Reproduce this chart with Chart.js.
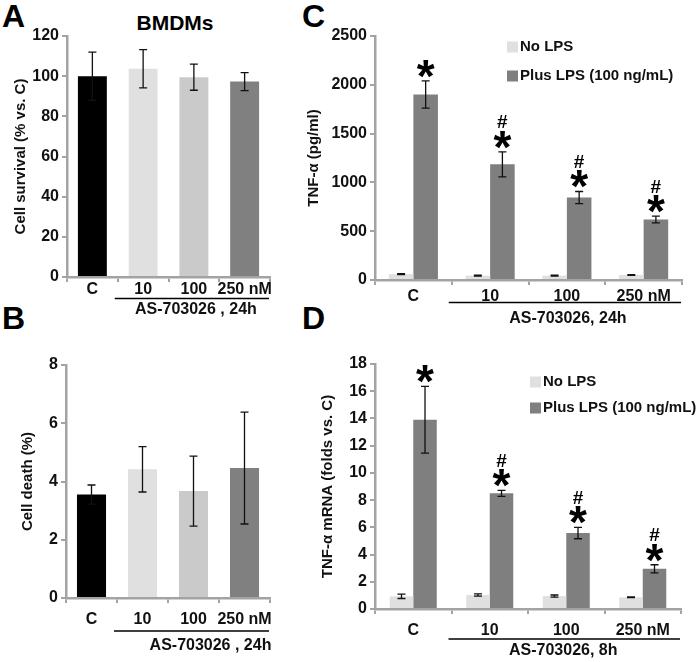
<!DOCTYPE html>
<html>
<head>
<meta charset="utf-8">
<script src="https://cdn.jsdelivr.net/npm/chart.js@4.4.1/dist/chart.umd.min.js"></script>
<style>
  body { margin: 0; background: #fff; }
  #fig { position: relative; width: 700px; height: 662px; background: #fff; font-family: 'Liberation Sans', Arial, sans-serif; color: #000; }
  #fig canvas { position: absolute; }
  .letter { position: absolute; font-weight: bold; font-size: 32px; line-height: 1; }
  .ttl { position: absolute; font-weight: bold; font-size: 21px; line-height: 1; width: 120px; text-align: center; }
</style>
</head>
<body>
<div id="fig">
  <div class="letter" style="left:2px;top:0">A</div>
  <div class="letter" style="left:2px;top:302px">B</div>
  <div class="letter" style="left:302px;top:0">C</div>
  <div class="letter" style="left:302px;top:302px">D</div>
  <div class="ttl" style="left:115px;top:12px">BMDMs</div>
  <canvas id="chartA" width="300" height="330" style="left:0;top:0"></canvas>
  <canvas id="chartB" width="300" height="332" style="left:0;top:330px"></canvas>
  <canvas id="chartC" width="400" height="330" style="left:300px;top:0"></canvas>
  <canvas id="chartD" width="400" height="332" style="left:300px;top:330px"></canvas>
</div>
<script>
// Data
const groups = ['C', '10', '100', '250 nM'];

const survival = [100, 103.7, 99.5, 97.3];
const survivalErr = [12, 9.5, 6.5, 4.5];

const death = [3.55, 4.42, 3.67, 4.46];
const deathErr = [0.33, 0.78, 1.2, 1.92];

const tnfNoLps = [60, 45, 45, 52];
const tnfNoLpsErr = [5, 4, 4, 4];
const tnfLps = [1900, 1185, 845, 620];
const tnfLpsErr = [140, 128, 62, 35];

const mrnaNoLps = [0.93, 1.03, 0.95, 0.86];
const mrnaNoLpsErr = [0.16, 0.08, 0.08, 0.03];
const mrnaLps = [13.9, 8.5, 5.58, 2.95];
const mrnaLpsErr = [2.45, 0.22, 0.42, 0.3];

const lpsMarks = ['*', '*#', '*#', '*#'];

const survivalAxis = { max: 120, step: 20 };
const deathAxis = { max: 8, step: 2 };
const tnfAxis = { max: 2500, step: 500 };
const mrnaAxis = { max: 18, step: 2 };

const FONT = "'Liberation Sans', Arial, sans-serif";
const axisGray = '#a3a3a3';
const barColors = ['#000000', '#e0e0e0', '#cacaca', '#808080'];
const noLpsColor = '#e0e0e0';
const lpsColor = '#7f7f7f';

Chart.defaults.font.family = FONT;

// error bars, significance marks, legend and the treatment bracket
const decor = {
    id: 'decor',
    afterDatasetsDraw(chart, args, opts) {
        const ctx = chart.ctx;
        const y = chart.scales.y;
        const x = chart.scales.x;
        chart.data.datasets.forEach((ds, i) => {
            const meta = chart.getDatasetMeta(i);
            meta.data.forEach((bar, j) => {
                const v = ds.data[j], e = ds.errors[j];
                const top = y.getPixelForValue(v + e);
                const bot = y.getPixelForValue(v - e);
                ctx.save();
                ctx.strokeStyle = '#111';
                ctx.lineWidth = 1.3;
                ctx.beginPath();
                ctx.moveTo(bar.x, top); ctx.lineTo(bar.x, bot);
                ctx.moveTo(bar.x - 4, top); ctx.lineTo(bar.x + 4, top);
                ctx.moveTo(bar.x - 4, bot); ctx.lineTo(bar.x + 4, bot);
                ctx.stroke();

                const marks = ds.marks ? ds.marks[j] : '';
                ctx.fillStyle = '#000';
                ctx.textAlign = 'center';
                if (marks.includes('*')) {
                    ctx.font = 'bold 46px ' + FONT;
                    const m = ctx.measureText('*');
                    const cy = top - 12;
                    ctx.fillText('*', bar.x, cy + (m.actualBoundingBoxAscent - m.actualBoundingBoxDescent) / 2);
                    if (marks.includes('#')) {
                        ctx.font = 'bold 19px ' + FONT;
                        const h = ctx.measureText('#');
                        ctx.fillText('#', bar.x, cy - 18 + (h.actualBoundingBoxAscent - h.actualBoundingBoxDescent) / 2);
                    }
                }
                ctx.restore();
            });
        });

        ctx.save();
        ctx.font = 'bold 15px ' + FONT;
        ctx.fillStyle = '#111';

        if (opts.legend) {
            const L = opts.legend;
            chart.data.datasets.forEach((ds, i) => {
                const cy = L.y + i * L.gap;
                ctx.fillStyle = ds.backgroundColor;
                ctx.fillRect(L.x, cy - 5.5, 11, 11);
                ctx.fillStyle = '#111';
                ctx.textAlign = 'left';
                ctx.textBaseline = 'middle';
                ctx.fillText(ds.label, L.x + 13, cy);
            });
        }

        const g = opts.group;
        const catW = x.getPixelForValue(1) - x.getPixelForValue(0);
        const x0 = x.getPixelForValue(1) - catW / 2 - 3;
        const x1 = x.getPixelForValue(3) + catW / 2 - 1;
        const ly = chart.chartArea.bottom + g.lineDy;
        ctx.strokeStyle = '#000';
        ctx.lineWidth = 1.6;
        ctx.beginPath();
        ctx.moveTo(x0, ly); ctx.lineTo(x1, ly);
        ctx.stroke();
        ctx.font = 'bold 16px ' + FONT;
        ctx.fillStyle = '#111';
        ctx.textAlign = 'center';
        ctx.textBaseline = 'middle';
        ctx.fillText(g.text, (x0 + x1) / 2 + g.textDx, ly + g.textDy);
        ctx.restore();
    }
};

function yAxis(range, title, titlePad, width) {
    return {
        min: 0,
        max: range.max,
        ticks: { stepSize: range.step, color: '#111', font: { size: 16, weight: 'bold' }, padding: 3, callback: v => String(v) },
        grid: { drawOnChartArea: false, color: axisGray, lineWidth: 2, tickLength: 5 },
        border: { color: axisGray, width: 2.5 },
        title: { display: true, text: title, color: '#111', font: { size: 15, weight: 'bold' }, padding: { top: titlePad, bottom: 0 } },
        afterFit(s) { s.width = width; }
    };
}

function xAxis(height, labelPad) {
    return {
        ticks: { color: '#111', font: { size: 16, weight: 'bold' }, padding: labelPad, autoSkip: false, maxRotation: 0 },
        grid: { drawOnChartArea: false, color: axisGray, lineWidth: 2, tickLength: 5, offset: true },
        border: { color: axisGray, width: 2.5 },
        afterFit(s) { s.height = height; }
    };
}

function makeChart(id, datasets, o) {
    return new Chart(document.getElementById(id), {
        type: 'bar',
        data: { labels: groups, datasets: datasets },
        options: {
            responsive: false,
            animation: false,
            layout: { padding: o.padding },
            datasets: { bar: { categoryPercentage: o.catPct, barPercentage: 1.0 } },
            plugins: {
                legend: { display: false },
                tooltip: { enabled: false },
                decor: { legend: o.legend, group: o.group }
            },
            scales: {
                x: xAxis(o.xHeight, o.labelPad),
                y: o.y
            }
        },
        plugins: [decor]
    });
}

makeChart('chartA', [
    { label: 'Cell survival', data: survival, errors: survivalErr, backgroundColor: barColors }
], {
    padding: { left: 0, right: 30, top: 36, bottom: 0 },
    catPct: 0.57, xHeight: 53, labelPad: -2,
    y: yAxis(survivalAxis, 'Cell survival (% vs. C)', 12, 67),
    group: { text: 'AS-703026 , 24h', lineDy: 21.5, textDy: 11.5, textDx: 4 }
});

makeChart('chartB', [
    { label: 'Cell death', data: death, errors: deathErr, backgroundColor: barColors }
], {
    padding: { left: 0, right: 30, top: 35, bottom: 0 },
    catPct: 0.57, xHeight: 64, labelPad: 7,
    y: yAxis(deathAxis, 'Cell death (%)', 19, 66),
    group: { text: 'AS-703026 , 24h', lineDy: 33, textDy: 15, textDx: 19 }
});

makeChart('chartC', [
    { label: 'No LPS', data: tnfNoLps, errors: tnfNoLpsErr, backgroundColor: noLpsColor },
    { label: 'Plus LPS (100 ng/mL)', data: tnfLps, errors: tnfLpsErr, backgroundColor: lpsColor, marks: lpsMarks }
], {
    padding: { left: 0, right: 18, top: 36, bottom: 0 },
    catPct: 0.64, xHeight: 50, labelPad: 2,
    y: yAxis(tnfAxis, 'TNF-α (pg/ml)', 5, 75),
    legend: { x: 207, y: 47, gap: 29 },
    group: { text: 'AS-703026, 24h', lineDy: 22.5, textDy: 16, textDx: 3 }
});

makeChart('chartD', [
    { label: 'No LPS', data: mrnaNoLps, errors: mrnaNoLpsErr, backgroundColor: noLpsColor },
    { label: 'Plus LPS (100 ng/mL)', data: mrnaLps, errors: mrnaLpsErr, backgroundColor: lpsColor, marks: lpsMarks }
], {
    padding: { left: 0, right: 19, top: 34, bottom: 0 },
    catPct: 0.615, xHeight: 53, labelPad: 7,
    y: yAxis(mrnaAxis, 'TNF-α mRNA (folds vs. C)', 19, 75),
    legend: { x: 230, y: 52, gap: 26 },
    group: { text: 'AS-703026, 8h', lineDy: 30, textDy: 12, textDx: -1 }
});
</script>
</body>
</html>
